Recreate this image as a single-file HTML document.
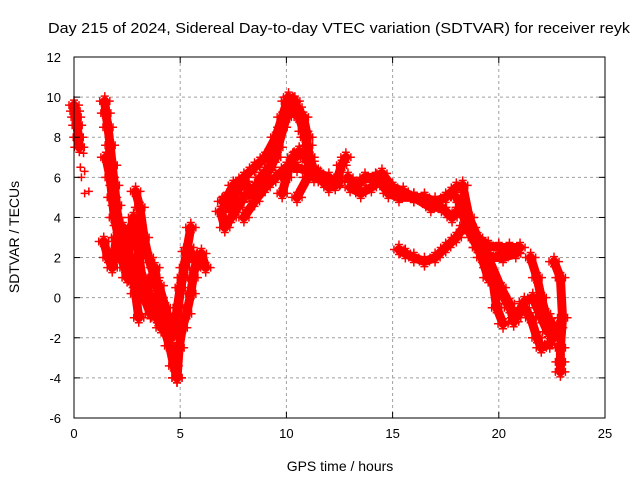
<!DOCTYPE html>
<html><head><meta charset="utf-8"><style>
body{margin:0;background:#fff;}
svg text{font-family:"Liberation Sans",sans-serif;fill:#000;}
</style></head><body>
<svg id="chart" width="640" height="480" xmlns="http://www.w3.org/2000/svg">
<rect width="640" height="480" fill="#fff"/>
<text x="48" y="33" font-size="15" textLength="582" lengthAdjust="spacingAndGlyphs">Day 215 of 2024, Sidereal Day-to-day VTEC variation (SDTVAR) for receiver reyk</text>
<g id="grid"></g>
<g id="series"></g>
<rect x="74" y="57" width="531" height="361" fill="none" stroke="#000" stroke-width="1"/>
<g id="ticks"></g>
<text x="340" y="471" font-size="14" text-anchor="middle">GPS time / hours</text>
<text transform="translate(19,237) rotate(-90)" font-size="14" text-anchor="middle">SDTVAR / TECUs</text>
</svg>
<script>
const xTicks=[0,5,10,15,20,25];
const yTicks=[-6,-4,-2,0,2,4,6,8,10,12];
const track1=[[0,9.6],[0.05,9.3],[0.1,9.0],[0.15,8.6],[0.2,8.0],[0.25,7.5]];
const scatter1=[[0.3,6.5],[0.45,7.2],[0.5,6.3],[0.5,5.2],[0.7,5.3],[0.35,6.0],[0.1,8.8]];
const track2=[[1.45,9.8],[1.5,9.2],[1.6,8.5],[1.7,7.6],[1.8,6.6],[1.9,5.6],[2.0,4.6],[2.1,3.6],[2.2,3.0],[2.4,2.5],[2.6,2.0],[2.8,1.5],[3.0,1.0],[3.3,0.6],[3.6,0.1],[3.9,-0.4],[4.2,-1.4],[4.5,-2.4],[4.7,-3.4],[4.85,-4.0]];
const track2b=[[1.5,7.0],[1.7,6.0],[1.8,5.0],[1.9,4.0],[2.1,3.0],[2.3,2.0],[2.5,1.0],[2.8,0.8],[3.0,0.5],[3.3,0.0],[3.6,-0.8],[3.9,-1.0],[4.1,-1.5]];
const track3=[[4.85,-4.0],[4.95,-2.5],[5.1,-1.5],[5.3,-0.8],[5.5,0.2],[5.6,1.0],[5.8,2.0],[6.0,2.2],[6.2,1.5]];
const track4=[[1.4,2.8],[1.6,2.0],[1.8,1.5],[2.0,3.0],[2.3,3.5],[2.5,2.8],[2.7,1.5],[2.9,0.2],[3.05,-1.0]];
const track4b=[[2.0,4.0],[2.2,2.0],[2.4,1.5],[2.6,3.0],[2.8,4.0],[3.0,2.5],[3.2,1.0],[3.5,0.5],[3.8,1.5],[4.0,0.0],[4.2,-0.8]];
const track5=[[2.9,5.3],[3.1,4.5],[3.3,3.0],[3.5,2.0],[3.8,1.0],[4.0,0.6],[4.3,-0.5],[4.6,-1.5]];
const track6=[[4.9,-0.5],[5.1,1.0],[5.3,2.3],[5.5,3.5]];
const track6b=[[4.6,-2.0],[4.8,-1.0],[5.0,0.5],[5.2,1.5],[5.4,2.5],[5.6,2.0],[5.9,1.8]];
const track7=[[6.9,4.3],[7.1,3.5],[7.4,4.0],[7.7,4.5],[8.0,5.0],[8.5,5.5],[9.0,6.0],[9.5,7.0],[9.8,8.5],[10.0,9.8],[10.3,9.8],[10.6,9.0],[10.9,8.0],[11.1,7.0],[11.3,6.3]];
const track7b=[[7.0,4.8],[7.3,4.5],[7.6,5.2],[8.0,5.8],[8.4,5.2],[8.8,6.0],[9.2,6.5],[9.6,7.5],[10.0,9.0],[10.5,9.5],[10.8,9.0],[11.0,8.0]];
const track8=[[7.2,5.0],[7.5,5.6],[8.0,6.0],[8.5,6.5],[9.0,7.0],[9.5,8.0],[9.8,9.0],[10.1,10.0],[10.4,9.8],[10.6,9.1],[10.8,8.3],[11.0,7.6],[11.1,6.8],[11.3,6.0]];
const track9=[[9.8,5.2],[10.0,6.0],[10.3,7.0],[10.6,7.3],[10.9,7.0],[11.2,6.3],[11.6,6.1],[12.0,5.7]];
const track10=[[10.5,5.0],[11.0,6.0],[11.5,6.2],[12.0,6.0],[12.3,5.6],[12.6,6.6],[12.8,7.0]];
const track10b=[[8.0,4.0],[8.5,4.8],[9.0,5.5],[9.5,6.0],[10.0,6.5],[10.5,6.5],[11.0,6.3],[11.5,6.0],[12.0,5.5],[12.5,5.8]];
const track11=[[12.9,6.0],[13.3,5.6],[13.7,6.0],[14.2,6.0],[14.5,6.2],[15.0,5.5],[15.5,5.3],[16.0,5.0],[16.5,5.0],[17.0,4.8],[17.5,5.0],[18.0,5.5],[18.3,5.6],[18.6,4.0],[19.0,3.0],[19.5,2.6],[20.0,2.5],[20.5,2.5],[21.0,2.5]];
const track11b=[[13.0,5.5],[13.5,5.2],[14.0,5.5],[14.4,5.8],[14.8,5.2],[15.3,5.0],[16.0,5.0],[16.8,4.5],[17.3,4.5],[17.8,4.0],[18.2,4.5],[18.5,3.5],[19.0,2.5],[19.6,2.0],[20.2,2.0],[20.8,2.2]];
const track12=[[15.3,2.4],[15.6,2.2],[16.0,2.0],[16.5,1.8],[17.0,2.0],[17.5,2.5],[18.0,3.0],[18.4,3.6],[18.8,3.0],[19.2,2.0],[19.5,1.0],[20.0,0.5],[20.5,-0.5],[20.8,-1.0],[21.2,-0.5],[21.5,-1.0],[21.8,-2.0],[22.0,-2.5],[22.4,-2.3],[22.8,-1.5]];
const track13=[[18.0,5.0],[18.3,4.5],[18.7,3.5],[19.0,2.5],[19.5,1.5],[19.7,1.0],[19.9,-0.5],[20.2,-1.3]];
const track14=[[21.5,2.0],[21.8,1.0],[22.0,0.0],[22.2,-0.8],[22.5,-1.3]];
const track15=[[22.6,1.8],[22.9,1.0],[23.0,-1.0],[22.9,-2.5],[22.9,-3.2],[22.9,-3.7]];
const track16=[[19.5,2.0],[20.1,0.5],[20.5,-0.3],[20.7,-1.2],[21.2,-0.2],[21.6,0.0],[22.0,-1.0],[22.3,-1.7]];
const tracks=[track1,track2,track2b,track3,track4,track4b,track5,track6,track6b,track7,track7b,track8,track9,track10,track10b,track11,track11b,track12,track13,track14,track15,track16];

const X0=74,X1=605,Y0=418,Y1=57;
function xs(v){return X0+(v-0)/(25-0)*(X1-X0);}
function ys(v){return Y0-(v+6)/(18)*(Y0-Y1);}
const NS="http://www.w3.org/2000/svg";
const grid=document.getElementById('grid'),ticks=document.getElementById('ticks'),ser=document.getElementById('series');
function mk(t,a,p){const e=document.createElementNS(NS,t);for(const k in a)e.setAttribute(k,a[k]);p.appendChild(e);return e;}
xTicks.forEach(v=>{
  const x=xs(v);
  if(v>0&&v<25){const g=mk('line',{x1:x,x2:x,y1:Y1,y2:Y0,stroke:'#a0a0a0','stroke-dasharray':'3,3'},grid);
  
  }
  mk('line',{x1:x,x2:x,y1:Y0,y2:Y0-6,stroke:'#000'},ticks);
  mk('line',{x1:x,x2:x,y1:Y1,y2:Y1+6,stroke:'#000'},ticks);
  const t=mk('text',{x:x,y:Y0+20,'font-size':13,'text-anchor':'middle'},ticks);t.textContent=v;
  
  
});
yTicks.forEach(v=>{
  const y=ys(v);
  if(v>-6&&v<12){const g=mk('line',{x1:X0,x2:X1,y1:y,y2:y,stroke:'#a0a0a0','stroke-dasharray':'3,3'},grid);
  
  }
  mk('line',{x1:X0,x2:X0+6,y1:y,y2:y,stroke:'#000'},ticks);
  mk('line',{x1:X1,x2:X1-6,y1:y,y2:y,stroke:'#000'},ticks);
  const t=mk('text',{x:X0-13,y:y+5,'font-size':13,'text-anchor':'end'},ticks);t.textContent=v;
  
  
});
function plus(x,y,p){const d=`M${x-4},${y}H${x+4}M${x},${y-4}V${y+4}`;const e=mk('path',{d:d,stroke:'#f00','stroke-width':1.5,fill:'none'},p);
  
  }
tracks.forEach((tr,i)=>{
  const g=mk('g',{},ser);
  
  
  const pts=tr.map(p=>xs(p[0])+','+ys(p[1])).join(' ');
  mk('polyline',{points:pts,fill:'none',stroke:'#f00','stroke-width':9,'stroke-linejoin':'round','stroke-linecap':'round'},g);
  tr.forEach(p=>{const x=xs(p[0]),y=ys(p[1]);plus(x-5,y,g);plus(x+5,y,g);plus(x,y-5,g);plus(x,y+5,g);});
});
const sg=mk('g',{},ser);


scatter1.forEach(p=>plus(xs(p[0]),ys(p[1]),sg));
</script>
</body></html>
